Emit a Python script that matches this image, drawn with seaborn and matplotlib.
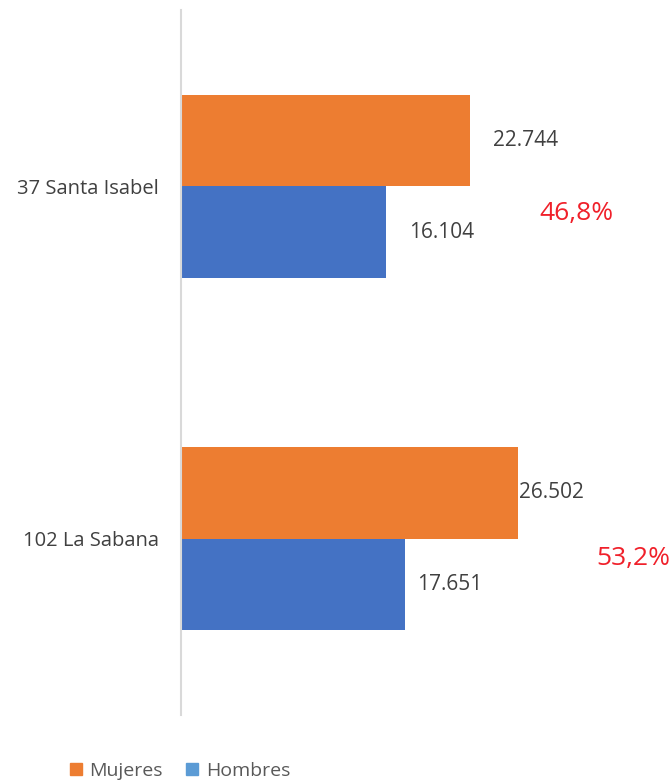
import numpy as np
import pandas as pd
import matplotlib.pyplot as plt
import seaborn as sns
from matplotlib.patches import Patch

# data
zonas = ["37 Santa Isabel", "102 La Sabana"]
mujeres = [22744, 26502]
hombres = [16104, 17651]
porcentajes = ["46,8%", "53,2%"]

df = pd.DataFrame({
    "zona": zonas * 2,
    "sexo": ["Mujeres"] * 2 + ["Hombres"] * 2,
    "valor": mujeres + hombres,
})

sns.set_theme(style="white")
plt.rcParams['font.family'] = ['Open Sans', 'DejaVu Sans']

fig = plt.figure(figsize=(6.69, 7.81), dpi=100)
ax = fig.add_axes([181 / 669, 66 / 781, 488 / 669, 705 / 781])

colores = {"Mujeres": "#ED7D31", "Hombres": "#4472C4"}
sns.barplot(data=df, y="zona", x="valor", hue="sexo", orient="h",
            palette=colores, saturation=1, width=0.52, linewidth=0,
            ax=ax, legend=False)

ax.set_xlim(0, 38400)
ax.set_ylim(1.5, -0.5)
ax.set_xlabel("")
ax.set_ylabel("")
ax.set_xticks([])
ax.tick_params(axis="y", length=0, pad=16, labelsize=14.5, labelcolor="#404040")
for s in ["top", "right", "bottom"]:
    ax.spines[s].set_visible(False)
ax.spines["left"].set_color("#D9D9D9")
ax.spines["left"].set_linewidth(1.5)

# value labels (Excel-style, thousands with a dot)
pads = [[23, 1], [23, 12]]  # px offset: row = sexo, col = zona
for j, vals in enumerate([mujeres, hombres]):
    for i, v in enumerate(vals):
        y = i + (-0.13 if j == 0 else 0.13)
        ax.annotate(f"{v:,}".replace(",", "."), xy=(v, y),
                    xytext=(pads[j][i] * 0.72, 0), textcoords="offset points",
                    va="center", ha="left", fontsize=15, color="#404040")

# share labels
for k, p in enumerate(porcentajes):
    xs = [576, 633][k]
    ax.text((xs - 181) / 488, k + 0.077 - 0.022 * k, p,
            transform=ax.get_yaxis_transform(), ha="center", va="center",
            fontsize=19, color="#F0202A")

handles = [Patch(color="#ED7D31", label="Mujeres"),
           Patch(color="#5B9BD5", label="Hombres")]
fig.legend(handles=handles, loc="center", bbox_to_anchor=(180 / 669, 1 - 771 / 781),
           ncol=2, frameon=False, fontsize=14, labelcolor="#595959",
           handlelength=0.6, handleheight=0.6, handletextpad=0.4, columnspacing=1.2)

fig.savefig("out.png", dpi=100)
